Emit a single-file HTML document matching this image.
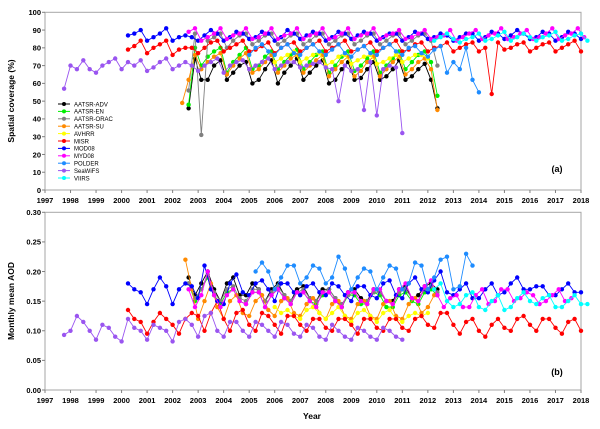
<!DOCTYPE html>
<html><head><meta charset="utf-8">
<style>
html,body{margin:0;padding:0;background:#fff;}
svg{display:block;font-family:"Liberation Sans",sans-serif;}
</style></head>
<body>
<svg id="chart" width="600" height="429" viewBox="0 0 600 429" xmlns="http://www.w3.org/2000/svg">
<rect x="0" y="0" width="600" height="429" fill="#fff"/>
<g id="panelA"></g>
<g id="panelB"></g>
<g id="legend"></g>
<text x="14" y="101" transform="rotate(-90 14 101)" text-anchor="middle" font-size="8.5" font-weight="bold" fill="#000">Spatial coverage (%)</text>
<text x="14" y="301" transform="rotate(-90 14 301)" text-anchor="middle" font-size="8.5" font-weight="bold" fill="#000">Monthly mean AOD</text>
<text x="312" y="419" text-anchor="middle" font-size="8.5" font-weight="bold" fill="#000">Year</text>
<text x="557" y="172" text-anchor="middle" font-size="9" font-weight="bold" fill="#000">(a)</text>
<text x="557" y="375" text-anchor="middle" font-size="9" font-weight="bold" fill="#000">(b)</text>
</svg>
<script>
const seriesNames = ["AATSR-ADV","AATSR-EN","AATSR-ORAC","AATSR-SU","AVHRR","MISR","MOD08","MYD08","POLDER","SeaWiFS","VIIRS"];
const seriesColors = ["#000000","#00ee00","#808080","#ff8a00","#ffff00","#ff0000","#0000ff","#ff00ff","#1e8cff","#9a55f0","#00ffff"];
const yearTicks = [1997,1998,1999,2000,2001,2002,2003,2004,2005,2006,2007,2008,2009,2010,2011,2012,2013,2014,2015,2016,2017,2018];
const covTicks = [0,10,20,30,40,50,60,70,80,90,100];
const aodTicks = [0,0.05,0.10,0.15,0.20,0.25,0.30];
const aodTickLabels = ["0.00","0.05","0.10","0.15","0.20","0.25","0.30"];
const step = 0.25;

// coverage (%)
const covStart = [2002.625,2002.625,2002.625,2002.375,2006.0,2000.25,2000.25,2002.625,2005.0,1997.75,2012.25];
const covADV = [46,74,62,62,70,73,62,66,70,72,60,62,68,73,60,66,70,74,62,66,70,73,60,62,68,72,62,63,68,72,62,64,68,73,62,64,68,71,62,46];
const covEN = [48,80,70,75,78,80,66,72,76,80,68,70,75,78,68,72,76,79,68,72,76,78,66,70,75,78,67,70,74,78,66,70,74,78,68,72,76,78,72,53];
const covORAC = [56,88,31,84,86,88,80,84,87,88,82,84,87,88,82,84,87,88,82,84,87,88,82,84,87,88,82,84,87,88,82,84,87,88,82,84,87,88,84,70];
const covSU = [49,62,76,68,72,75,77,65,70,74,77,66,68,72,76,66,70,74,76,66,70,73,76,64,68,72,75,64,67,72,75,64,68,72,75,65,68,72,74,68,45];
const covAVHRR = [72,74,76,78,72,74,76,77,70,72,75,76,71,73,75,76,71,72,74,76,72,74,76,76,74];
const covMISR = [79,81,84,77,80,82,84,76,79,80,80,77,80,83,84,78,80,82,84,78,79,81,83,77,80,82,83,78,80,82,84,78,80,82,84,78,79,81,83,78,80,82,84,78,79,82,83,78,80,81,83,78,80,82,83,78,80,54,83,79,80,82,83,78,80,82,83,78,80,82,84,78];
const covMOD = [87,88,90,84,86,88,91,84,86,87,86,84,87,90,88,84,86,89,88,85,86,89,88,84,86,90,88,85,87,89,88,84,86,89,88,85,87,89,88,84,86,88,88,84,86,89,88,85,86,88,87,84,86,88,88,84,86,89,88,85,87,90,88,85,86,89,88,84,86,89,88,85];
const covMYD = [89,91,84,86,88,91,85,87,88,91,85,86,88,91,85,87,88,91,85,87,88,91,85,86,88,91,85,87,88,91,85,87,88,90,85,86,88,90,85,86,87,90,84,86,88,90,85,87,88,91,85,86,88,90,85,86,88,91,85,87,88,91,86];
const covPOL = [76,80,82,78,76,80,82,77,76,80,82,78,76,79,82,77,75,79,81,77,76,80,82,78,76,80,81,77,75,79,81,66,72,68,80,62,55];
const covSEA = [57,70,68,73,68,66,70,72,74,68,72,70,73,67,69,72,74,68,70,72,70,67,70,72,74,66,70,72,73,68,70,72,74,68,70,72,72,69,70,71,72,69,68,50,70,67,68,45,72,42,68,70,69,32];
const covVIIRS = [84,86,88,85,83,85,86,88,84,85,87,89,84,86,88,86,84,86,87,89,84,85,87,88,84];

// monthly mean AOD
const aodStart = [2002.625,2002.625,2002.625,2002.5,2006.0,2000.25,2000.25,2002.625,2005.25,1997.75,2012.25];
const aodADV = [0.19,0.16,0.18,0.20,0.17,0.15,0.18,0.19,0.16,0.16,0.18,0.17,0.15,0.17,0.18,0.16,0.15,0.17,0.175,0.155,0.15,0.17,0.17,0.155,0.14,0.165,0.17,0.155,0.15,0.17,0.165,0.15,0.15,0.17,0.175,0.155,0.16,0.175,0.18,0.17];
const aodEN = [0.18,0.15,0.17,0.19,0.16,0.145,0.165,0.17,0.15,0.145,0.165,0.165,0.14,0.16,0.17,0.155,0.145,0.165,0.165,0.15,0.145,0.16,0.165,0.15,0.14,0.16,0.16,0.145,0.145,0.165,0.16,0.14,0.14,0.16,0.165,0.15,0.145,0.165,0.17,0.16];
const aodORAC = [0.18,0.155,0.17,0.195,0.165,0.15,0.17,0.175,0.155,0.15,0.17,0.17,0.15,0.165,0.175,0.16,0.15,0.165,0.17,0.155,0.15,0.165,0.17,0.155,0.145,0.16,0.165,0.15,0.15,0.165,0.165,0.15,0.145,0.165,0.17,0.155,0.15,0.17,0.175,0.165];
const aodSU = [0.22,0.17,0.12,0.15,0.18,0.14,0.12,0.15,0.16,0.13,0.125,0.15,0.16,0.135,0.125,0.15,0.155,0.13,0.125,0.145,0.155,0.13,0.12,0.145,0.15,0.125,0.12,0.145,0.15,0.125,0.12,0.145,0.15,0.125,0.12,0.145,0.155,0.13,0.14,0.16];
const aodAVHRR = [0.14,0.13,0.135,0.125,0.12,0.135,0.14,0.13,0.12,0.13,0.14,0.125,0.115,0.13,0.135,0.125,0.115,0.13,0.135,0.12,0.115,0.125,0.13,0.125,0.13];
const aodMISR = [0.135,0.12,0.115,0.095,0.115,0.13,0.12,0.11,0.095,0.12,0.13,0.125,0.10,0.13,0.15,0.12,0.10,0.13,0.135,0.11,0.10,0.13,0.125,0.11,0.095,0.125,0.125,0.11,0.10,0.12,0.12,0.105,0.10,0.12,0.12,0.11,0.095,0.12,0.12,0.105,0.10,0.12,0.12,0.105,0.10,0.12,0.125,0.11,0.105,0.13,0.13,0.11,0.095,0.115,0.12,0.10,0.09,0.11,0.12,0.105,0.10,0.12,0.125,0.11,0.10,0.12,0.12,0.105,0.095,0.115,0.12,0.10];
const aodMOD = [0.18,0.17,0.165,0.145,0.17,0.19,0.175,0.145,0.17,0.18,0.175,0.155,0.21,0.17,0.15,0.145,0.18,0.195,0.165,0.16,0.18,0.185,0.17,0.15,0.18,0.18,0.165,0.16,0.175,0.18,0.165,0.16,0.18,0.175,0.16,0.15,0.175,0.175,0.16,0.155,0.18,0.185,0.16,0.155,0.18,0.19,0.17,0.165,0.185,0.20,0.165,0.16,0.17,0.18,0.155,0.155,0.17,0.18,0.16,0.165,0.18,0.19,0.17,0.17,0.175,0.175,0.16,0.16,0.17,0.18,0.165,0.165];
const aodMYD = [0.17,0.14,0.16,0.20,0.16,0.14,0.16,0.17,0.15,0.145,0.165,0.165,0.14,0.16,0.17,0.155,0.145,0.165,0.165,0.15,0.14,0.165,0.165,0.15,0.14,0.165,0.165,0.15,0.145,0.17,0.17,0.15,0.145,0.17,0.18,0.155,0.15,0.175,0.185,0.16,0.14,0.155,0.16,0.14,0.14,0.16,0.17,0.145,0.15,0.17,0.17,0.15,0.155,0.165,0.16,0.145,0.15,0.16,0.17,0.15,0.155];
const aodPOL = [0.20,0.215,0.20,0.17,0.19,0.21,0.21,0.18,0.19,0.21,0.205,0.18,0.19,0.225,0.205,0.17,0.19,0.205,0.20,0.17,0.19,0.21,0.205,0.17,0.18,0.215,0.21,0.17,0.19,0.22,0.225,0.17,0.175,0.23,0.21];
const aodSEA = [0.093,0.10,0.125,0.115,0.10,0.085,0.11,0.105,0.09,0.082,0.12,0.105,0.10,0.085,0.11,0.105,0.10,0.082,0.115,0.12,0.11,0.09,0.125,0.13,0.10,0.09,0.115,0.115,0.10,0.09,0.115,0.11,0.10,0.09,0.115,0.11,0.095,0.09,0.11,0.105,0.09,0.085,0.11,0.10,0.09,0.085,0.105,0.10,0.09,0.085,0.105,0.10,0.09,0.085];
const aodVIIRS = [0.17,0.18,0.15,0.14,0.145,0.16,0.165,0.14,0.135,0.15,0.16,0.135,0.14,0.155,0.165,0.15,0.145,0.155,0.16,0.14,0.14,0.15,0.16,0.145,0.145];

const covData = [covADV,covEN,covORAC,covSU,covAVHRR,covMISR,covMOD,covMYD,covPOL,covSEA,covVIIRS];
const aodData = [aodADV,aodEN,aodORAC,aodSU,aodAVHRR,aodMISR,aodMOD,aodMYD,aodPOL,aodSEA,aodVIIRS];

const NS = "http://www.w3.org/2000/svg";
const X0 = 45, X1 = 581, YR0 = 1997, YR1 = 2018;
function xScale(t){ return X0 + (t - YR0) / (YR1 - YR0) * (X1 - X0); }
function mk(tag, attrs, parent){ const e = document.createElementNS(NS, tag); for (const k in attrs) e.setAttribute(k, attrs[k]); parent.appendChild(e); return e; }

function drawPanel(g, top, bottom, ymax, ticks, tickLabels, data, starts, prefix){
  const yScale = v => bottom - v / ymax * (bottom - top);
  const frame = mk("rect", {x:X0, y:top, width:X1-X0, height:bottom-top, fill:"none", stroke:"#a6a6a6", "stroke-width":1}, g);
  
  
  ticks.forEach((v,i) => {
    const y = yScale(v);
    mk("line", {x1:X0-3, x2:X0, y1:y, y2:y, stroke:"#808080"}, g);
    const t = mk("text", {x:X0-4, y:y+2.8, "text-anchor":"end", "font-size":7.5, "font-weight":"bold", fill:"#000"}, g);
    
    
    t.textContent = tickLabels[i];
  });
  yearTicks.forEach(yr => {
    const x = xScale(yr);
    mk("line", {x1:x, x2:x, y1:bottom, y2:bottom+3, stroke:"#808080"}, g);
    const t = mk("text", {x:x, y:bottom+13, "text-anchor":"middle", "font-size":7.5, "font-weight":"bold", fill:"#000"}, g);
    
    
    t.textContent = yr;
  });
  data.forEach((vals, si) => {
    const sg = mk("g", {}, g);
    
    
    const pts = vals.map((v,i) => [xScale(starts[si] + i*step), yScale(v)]);
    mk("polyline", {points: pts.map(p => p[0].toFixed(1)+","+p[1].toFixed(1)).join(" "), fill:"none", stroke:seriesColors[si], "stroke-width":0.9}, sg);
    pts.forEach(p => {
      const c = mk("circle", {cx:p[0].toFixed(1), cy:p[1].toFixed(1), r:2.2, fill:seriesColors[si]}, sg);
      
      
    });
  });
}
drawPanel(document.getElementById("panelA"), 12.3, 190, 100, covTicks, covTicks.map(String), covData, covStart, "coverage");
drawPanel(document.getElementById("panelB"), 212.3, 390, 0.30, aodTicks, aodTickLabels, aodData, aodStart, "aod");

const lg = document.getElementById("legend");
seriesNames.forEach((n,i) => {
  const y = 104 + i*7.4;
  const e = mk("g", {}, lg);
  
  
  mk("line", {x1:58, x2:70, y1:y, y2:y, stroke:seriesColors[i], "stroke-width":1}, e);
  mk("circle", {cx:64, cy:y, r:2, fill:seriesColors[i]}, e);
  const t = mk("text", {x:74, y:y+2.3, "font-size":6, fill:"#000"}, e);
  t.textContent = n;
});
</script>
</body></html>
